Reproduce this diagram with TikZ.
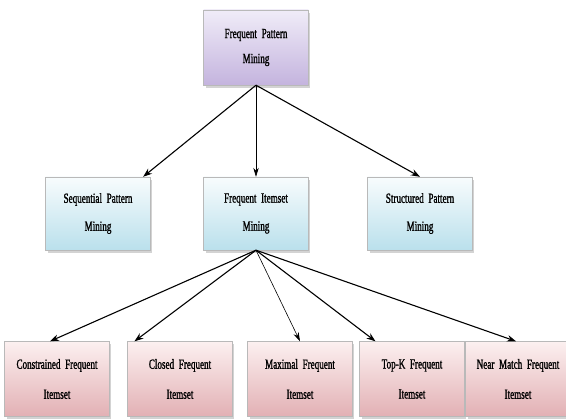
\documentclass[tikz,border=0pt]{standalone}
\usepackage{fontspec}
\setmainfont{Liberation Serif}[FakeStretch=0.65, FakeBold=1.2, WordSpace=0.6]
\usetikzlibrary{arrows.meta, positioning, shadows}
\definecolor{purpletop}{RGB}{240,236,248}
\definecolor{purplebot}{RGB}{196,180,222}
\definecolor{bluetop}{RGB}{248,252,253}
\definecolor{bluebot}{RGB}{186,224,236}
\definecolor{pinktop}{RGB}{252,240,240}
\definecolor{pinkbot}{RGB}{226,176,180}
\tikzstyle{block} = [rectangle, draw=gray!55, text centered, text width=98pt, minimum width=100pt, font=\fontsize{14}{25}\selectfont, drop shadow={shadow xshift=2pt, shadow yshift=-3pt, opacity=0.35}]
\tikzstyle{rootblock} = [block, minimum height=75pt, top color=purpletop, bottom color=purplebot]
\tikzstyle{midblock} = [block, minimum height=73pt, top color=bluetop, bottom color=bluebot, font=\fontsize{14}{28}\selectfont]
\tikzstyle{leafblock} = [block, minimum height=75pt, top color=pinktop, bottom color=pinkbot, font=\fontsize{14}{30}\selectfont]
\tikzstyle{arrow} = [line width=1.1pt,-{Stealth[length=9pt,width=6.5pt]}]
\tikzstyle{thinarrow} = [line width=0.6pt,-{Stealth[length=9pt,width=5.5pt]}]

\begin{document}
\begin{tikzpicture}[x=1pt, y=1pt, node distance=166pt]
    \useasboundingbox (0,0) rectangle (566,-419);

    % Root
    \node (fpm) [rootblock] at (256,-47.5) {Frequent Pattern\\Mining};

    % Second level
    \node (itemset) [midblock, below of=fpm] {Frequent Itemset\\Mining};
    \node (seq) [midblock, below of=fpm, xshift=-158pt] {Sequential Pattern\\Mining};
    \node (struct) [midblock, below of=fpm, xshift=164pt] {Structured Pattern\\Mining};

    % Third level
    \node (maximal) [leafblock, below of=itemset, node distance=165.5pt, xshift=44pt] {Maximal Frequent\\Itemset};
    \node (constrained) [leafblock, below of=itemset, node distance=165.5pt, xshift=-199pt] {Constrained Frequent\\Itemset};
    \node (closed) [leafblock, below of=itemset, node distance=165.5pt, xshift=-76pt] {Closed Frequent\\Itemset};
    \node (topk) [leafblock, below of=itemset, node distance=165.5pt, xshift=156pt] {Top-K Frequent\\Itemset};
    \node (nearmatch) [leafblock, below of=itemset, node distance=165.5pt, xshift=262pt] {Near Match Frequent\\Itemset};

    % ==== Arrows
    \draw [arrow] (fpm.south) -- (seq);
    \draw [thinarrow] (fpm.south) -- (itemset.north);
    \draw [arrow] (fpm.south) -- (struct.north);

    \draw [arrow] (itemset.south) -- ([xshift=-7pt]constrained.north);
    \draw [arrow] (itemset.south) -- ([xshift=7pt]closed.north west);
    \draw [thinarrow] (itemset.south) -- (maximal.north);
    \draw [arrow] (itemset.south) -- ([xshift=16pt]topk.north west);
    \draw [arrow] (itemset.south) -- ([xshift=-2pt]nearmatch.north);

\end{tikzpicture}
\end{document}
